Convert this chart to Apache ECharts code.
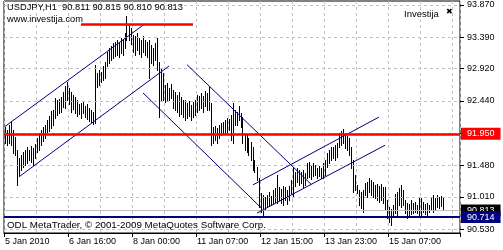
<!DOCTYPE html>
<html><head><meta charset="utf-8">
<script src="https://cdn.jsdelivr.net/npm/echarts@6/dist/echarts.min.js"></script>
<style>html,body{margin:0;padding:0;background:#fff}#c{width:503px;height:250px}</style>
</head><body><div id="c"></div>
<script>
const symbolTitle = 'USDJPY,H1';
const lastOHLC = ['90.811', '90.815', '90.810', '90.813'];
const siteText = 'www.investija.com';
const badgeText = 'Investija';
const copyrightText = 'ODL MetaTrader, \u00a9 2001-2009 MetaQuotes Software Corp.';
const tickLabels = ['5 Jan 2010', '6 Jan 16:00', '8 Jan 00:00', '11 Jan 07:00', '12 Jan 15:00', '13 Jan 23:00', '15 Jan 07:00'];
const barsPerTick = 32;
const totalSlots = 228;
const priceTicks = [93.870, 93.390, 92.920, 92.440, 91.960, 91.480, 91.010, 90.530];
const priceLabels = [93.870, 93.390, 92.920, 92.440, 91.480, 91.010, 90.530];
const yMin = 90.473, yMax = 93.929;

const highs = [
92.05,92.01,92.08,92.14,92.01,91.90,91.71,91.59,91.64,91.68,
91.71,91.75,91.71,91.77,91.74,91.80,91.89,91.96,92.01,92.05,
92.08,92.16,92.22,92.29,92.31,92.48,92.45,92.47,92.50,92.57,
92.66,92.72,92.63,92.57,92.53,92.50,92.45,92.40,92.41,92.44,
92.37,92.40,92.34,92.31,92.28,92.98,92.86,92.90,92.87,92.96,
93.02,93.17,93.23,93.26,93.30,93.32,93.35,93.30,93.38,93.35,
93.45,93.71,93.57,93.53,93.42,93.41,93.45,93.38,93.35,93.41,
93.35,93.32,93.35,93.27,93.23,93.30,93.38,93.02,92.93,92.86,
92.68,92.71,92.63,92.69,92.60,92.57,92.53,92.57,92.50,92.45,
92.45,92.41,92.44,92.38,92.43,92.45,92.53,92.51,92.56,92.51,
92.59,92.56,92.65,92.41,92.05,92.07,92.04,92.08,92.11,92.13,
92.16,92.19,92.17,92.23,92.41,92.31,92.28,92.37,92.26,92.20,
91.96,91.93,91.89,91.83,91.75,91.56,91.46,91.29,91.07,91.04,
91.01,91.04,91.08,91.02,91.11,91.14,91.34,91.16,91.13,91.17,
91.16,91.11,91.17,91.26,91.46,91.38,91.44,91.41,91.38,91.41,
91.37,91.52,91.53,91.49,91.52,91.49,91.44,91.47,91.44,91.52,
91.56,91.67,91.71,91.75,91.75,91.78,91.81,91.96,91.99,92.02,
91.96,91.92,91.89,91.75,91.56,91.34,91.19,91.11,91.08,91.11,
91.22,91.23,91.29,91.26,91.23,91.19,91.20,91.17,91.20,91.16,
91.16,90.96,90.86,90.83,90.89,91.05,91.08,91.14,91.19,91.11,
90.96,90.92,90.91,90.96,90.92,90.94,90.89,91.01,90.99,90.94,
90.91,90.92,90.89,91.01,91.04,90.99,91.04,91.01,91.02,90.99,
90.815
];
const lows = [
91.81,91.78,91.81,91.78,91.67,91.64,91.19,91.34,91.41,91.46,
91.49,91.52,91.56,91.53,91.49,91.59,91.68,91.71,91.78,91.84,
91.89,91.96,91.99,92.04,92.08,92.19,92.23,92.26,92.28,92.35,
92.34,92.45,92.40,92.28,92.32,92.26,92.22,92.25,92.19,92.26,
92.20,92.17,92.14,92.13,92.10,92.11,92.65,92.68,92.72,92.75,
92.78,92.96,93.01,93.05,93.08,93.11,93.13,93.10,93.16,93.13,
93.23,93.35,93.35,93.29,93.17,93.13,93.20,93.14,93.10,93.17,
93.13,93.10,92.78,93.01,92.98,93.05,92.90,92.20,92.45,92.45,
92.43,92.45,92.45,92.48,92.34,92.31,92.28,92.22,92.25,92.20,
92.16,92.19,92.22,92.16,92.20,92.23,92.28,92.31,92.34,92.28,
92.37,92.31,92.31,91.78,91.81,91.86,91.81,91.89,91.93,91.96,
91.96,91.98,92.01,91.86,91.81,92.08,92.08,92.16,92.05,91.81,
91.71,91.68,91.64,91.56,91.41,91.38,91.26,90.86,90.79,90.71,
90.82,90.86,90.88,90.89,90.92,90.94,90.92,90.96,90.92,90.89,
90.96,90.91,90.96,91.07,91.01,91.17,91.23,91.19,91.22,91.16,
91.19,91.29,91.31,91.28,91.32,91.34,91.29,91.32,91.29,91.29,
91.34,91.46,91.52,91.56,91.59,91.56,91.61,91.75,91.78,91.81,
91.74,91.71,91.64,91.44,91.08,91.11,91.07,90.89,90.85,90.79,
91.04,91.01,91.08,91.04,91.01,90.99,90.96,90.94,90.96,90.92,
90.82,90.70,90.64,90.59,90.71,90.77,90.71,90.89,90.86,90.89,
90.77,90.70,90.73,90.76,90.77,90.79,90.77,90.74,90.71,90.79,
90.76,90.74,90.79,90.82,90.79,90.82,90.86,90.85,90.88,90.82,
90.810
];

const supportLevel = 91.950;
const lowLevel = 90.714;
const bidPrice = 90.813;
const topLevel = 93.59;
const topLevelBars = [38, 93.5];
const trendLines = [
  [[0, 92.06], [70, 93.59]],
  [[6.5, 91.31], [81.5, 92.96]],
  [[91, 92.98], [152.5, 91.20]],
  [[69, 92.56], [128, 90.85]],
  [[123.5, 91.19], [186.5, 92.20]],
  [[126, 90.77], [190, 91.78]]
];

const FONT = 'Liberation Sans';
const slots = Array.from({length: totalSlots}, (_, i) => String(i));
const barData = highs.map((h, i) => [i, lows[i], h]);
const isTick = (idx) => idx % barsPerTick === 0 && idx / barsPerTick < tickLabels.length;

const chart = echarts.init(document.getElementById('c'), null, {renderer: 'canvas'});
chart.setOption({
  animation: false,
  backgroundColor: '#fff',
  grid: {left: 4, top: 1, width: 456, height: 232, show: true, borderColor: '#000', borderWidth: 1, backgroundColor: '#fff'},
  xAxis: {
    type: 'category', data: slots, boundaryGap: true,
    axisLine: {show: true, lineStyle: {color: '#000', width: 1}},
    axisTick: {show: true, interval: (idx) => isTick(idx), length: 4, lineStyle: {color: '#000'}},
    axisLabel: {interval: (idx) => isTick(idx), formatter: (v, idx) => tickLabels[Math.round(idx / barsPerTick)],
      align: 'left', fontSize: 9, fontFamily: FONT, color: '#000', margin: 4},
    splitLine: {show: true, interval: (idx) => idx % 16 === 0, lineStyle: {color: '#c0c0c0', type: [3, 3], width: 1}}
  },
  yAxis: {
    type: 'value', position: 'right', min: yMin, max: yMax, scale: true,
    axisLine: {show: false},
    splitLine: {show: false},
    axisTick: {show: true, customValues: priceTicks, length: 4, lineStyle: {color: '#000'}},
    axisLabel: {customValues: priceLabels, formatter: (v) => Number(v).toFixed(3), fontSize: 9, fontFamily: FONT, color: '#000', margin: 7}
  },
  series: [
    {
      type: 'line', data: [], z: 1, silent: true,
      markLine: {silent: true, symbol: ['none', 'none'], animation: false, label: {show: false},
        lineStyle: {color: '#c0c0c0', type: [3, 3], width: 1},
        data: priceTicks.map(v => ({yAxis: v}))}
    },
    {
      type: 'line', data: [], z: 2, silent: true,
      markLine: {silent: true, symbol: ['none', 'none'], animation: false,
        lineStyle: {color: '#c0c0c0', type: 'solid', width: 1},
        label: {show: true, position: 'end', distance: 1, formatter: bidPrice.toFixed(3), backgroundColor: '#000', color: '#fff',
          padding: [2, 6, 1, 6], fontSize: 9, fontFamily: FONT},
        data: [{yAxis: bidPrice}]}
    },
    {
      type: 'custom', data: barData, z: 3, clip: true,
      encode: {x: 0, y: [1, 2]},
      renderItem: function (params, api) {
        const i = api.value(0);
        const lo = api.coord([i, api.value(1)]);
        const hi = api.coord([i, api.value(2)]);
        const x = Math.floor(lo[0]) + 0.5;
        return {type: 'line', shape: {x1: x, y1: Math.round(hi[1]), x2: x, y2: Math.round(lo[1]) + 1},
          style: {stroke: '#000', lineWidth: 1}};
      }
    },
    {
      type: 'line', data: [], z: 4, silent: true,
      markLine: {silent: true, symbol: ['none', 'none'], animation: false, label: {show: false},
        lineStyle: {color: '#000080', type: 'solid', width: 1},
        data: trendLines.map(t => [{coord: t[0]}, {coord: t[1]}])}
    },
    {
      type: 'line', data: [], z: 5, silent: true,
      markLine: {silent: true, symbol: ['none', 'none'], animation: false,
        data: [
          {yAxis: supportLevel, lineStyle: {color: '#ff0000', type: 'solid', width: 2.5},
            label: {show: true, position: 'end', distance: 1, formatter: supportLevel.toFixed(3), backgroundColor: '#ff0000', color: '#fff',
              padding: [2, 6, 1, 6], fontSize: 9, fontFamily: FONT}},
          [{coord: [topLevelBars[0], topLevel], lineStyle: {color: '#ff0000', type: 'solid', width: 2.5}, label: {show: false}},
           {coord: [topLevelBars[1], topLevel]}]
        ]}
    },
    {
      type: 'line', data: [], z: 6, silent: true,
      markLine: {silent: true, symbol: ['none', 'none'], animation: false,
        lineStyle: {color: '#000080', type: 'solid', width: 2},
        label: {show: true, position: 'end', distance: 1, formatter: lowLevel.toFixed(3), backgroundColor: '#000080', color: '#fff',
          padding: [2, 6, 1, 6], fontSize: 9, fontFamily: FONT},
        data: [{yAxis: lowLevel}]}
    }
  ],
  graphic: [
    {type: 'text', left: 7, top: 3, z: 100, style: {text: symbolTitle + '  ' + lastOHLC.join(' '), font: '9.3px "' + FONT + '"', fill: '#000'}},
    {type: 'text', left: 7, top: 15, z: 100, style: {text: siteText, font: '9.3px "' + FONT + '"', fill: '#000'}},
    {type: 'text', left: 404, top: 9, z: 100, style: {text: badgeText, font: '9.5px "' + FONT + '"', fill: '#000'}},
    {type: 'text', left: 446, top: 8, z: 100, style: {text: '\u2716', font: 'bold 8px "DejaVu Sans"', fill: '#000'}},
    {type: 'text', left: 7, top: 220, z: 100, style: {text: copyrightText, font: '9.8px "' + FONT + '"', fill: '#000'}}
  ]
});
</script></body></html>
